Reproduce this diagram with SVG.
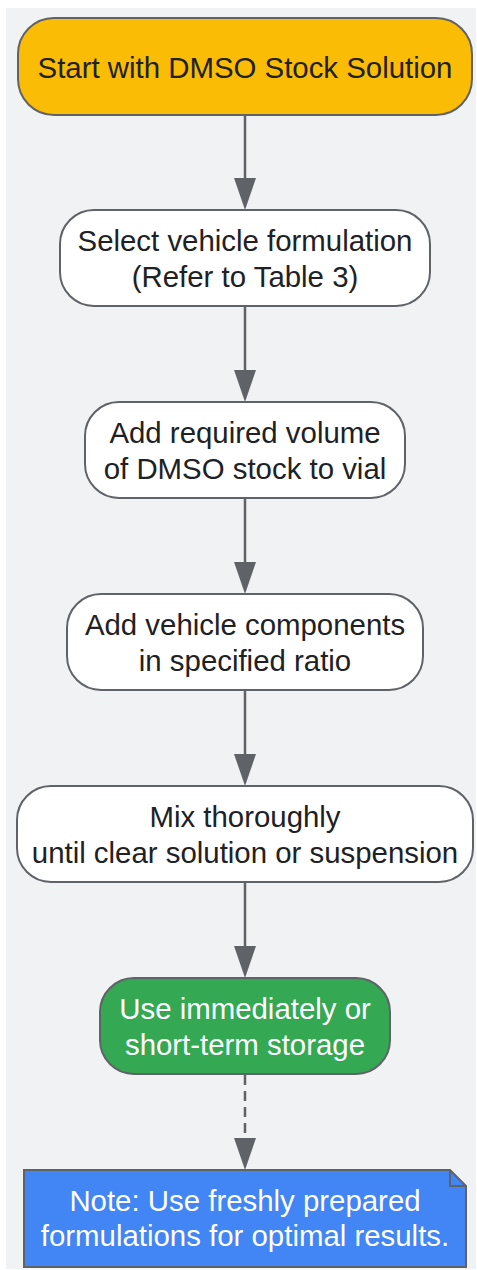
<svg xmlns="http://www.w3.org/2000/svg" width="477" height="1270" viewBox="0 0 477 1270">
<style>
.n{stroke:#5f6368;stroke-width:2}
.t{font-family:"Liberation Sans",Arial,sans-serif;font-size:29.4px;fill:#202124;text-anchor:middle}
.w{fill:#ffffff}
.e{stroke:#5f6368;stroke-width:2.5;fill:none}
</style>
<rect x="6" y="8" width="470" height="1261" fill="#f1f2f4"/>
<g id="edges">
<line class="e" x1="245" y1="115" x2="245" y2="180"/>
<path d="M234,178 L256,178 L245,210 Z" fill="#5f6368"/>
<line class="e" x1="245" y1="306" x2="245" y2="372"/>
<path d="M234,370 L256,370 L245,402 Z" fill="#5f6368"/>
<line class="e" x1="245" y1="498" x2="245" y2="564"/>
<path d="M234,562 L256,562 L245,594 Z" fill="#5f6368"/>
<line class="e" x1="245" y1="690" x2="245" y2="756"/>
<path d="M234,754 L256,754 L245,786 Z" fill="#5f6368"/>
<line class="e" x1="245" y1="882" x2="245" y2="948"/>
<path d="M234,946 L256,946 L245,978 Z" fill="#5f6368"/>
<line class="e" x1="245" y1="1075" x2="245" y2="1140" stroke-dasharray="10,6"/>
<path d="M234,1138 L256,1138 L245,1170 Z" fill="#5f6368"/>
</g>
<g id="start">
<rect class="n" x="18" y="18" width="454" height="97" rx="36" fill="#fbbc05"/>
<text class="t" x="245" y="78">Start with DMSO Stock Solution</text>
</g>
<g id="select">
<rect class="n" x="60" y="210" width="370" height="96" rx="34" fill="#ffffff"/>
<text class="t" x="245" y="251">Select vehicle formulation</text>
<text class="t" x="245" y="287">(Refer to Table 3)</text>
</g>
<g id="addstock">
<rect class="n" x="85" y="402" width="320" height="96" rx="34" fill="#ffffff"/>
<text class="t" x="245" y="443">Add required volume</text>
<text class="t" x="245" y="479">of DMSO stock to vial</text>
</g>
<g id="addvehicle">
<rect class="n" x="67" y="594" width="356" height="96" rx="34" fill="#ffffff"/>
<text class="t" x="245" y="635">Add vehicle components</text>
<text class="t" x="245" y="671">in specified ratio</text>
</g>
<g id="mix">
<rect class="n" x="17" y="786" width="456" height="96" rx="34" fill="#ffffff"/>
<text class="t" x="245" y="827">Mix thoroughly</text>
<text class="t" x="245" y="863">until clear solution or suspension</text>
</g>
<g id="use">
<rect class="n" x="100" y="978" width="290" height="96" rx="34" fill="#34a853"/>
<text class="t w" x="245" y="1019">Use immediately or</text>
<text class="t w" x="245" y="1055">short-term storage</text>
</g>
<g id="note">
<path class="n" d="M24,1170 L450,1170 L466,1186 L466,1267 L24,1267 Z" fill="#4285f4"/>
<path class="n" d="M450,1170 L450,1186 L466,1186" fill="none"/>
<text class="t w" x="245" y="1211">Note: Use freshly prepared</text>
<text class="t w" x="245" y="1246">formulations for optimal results.</text>
</g>
</svg>
